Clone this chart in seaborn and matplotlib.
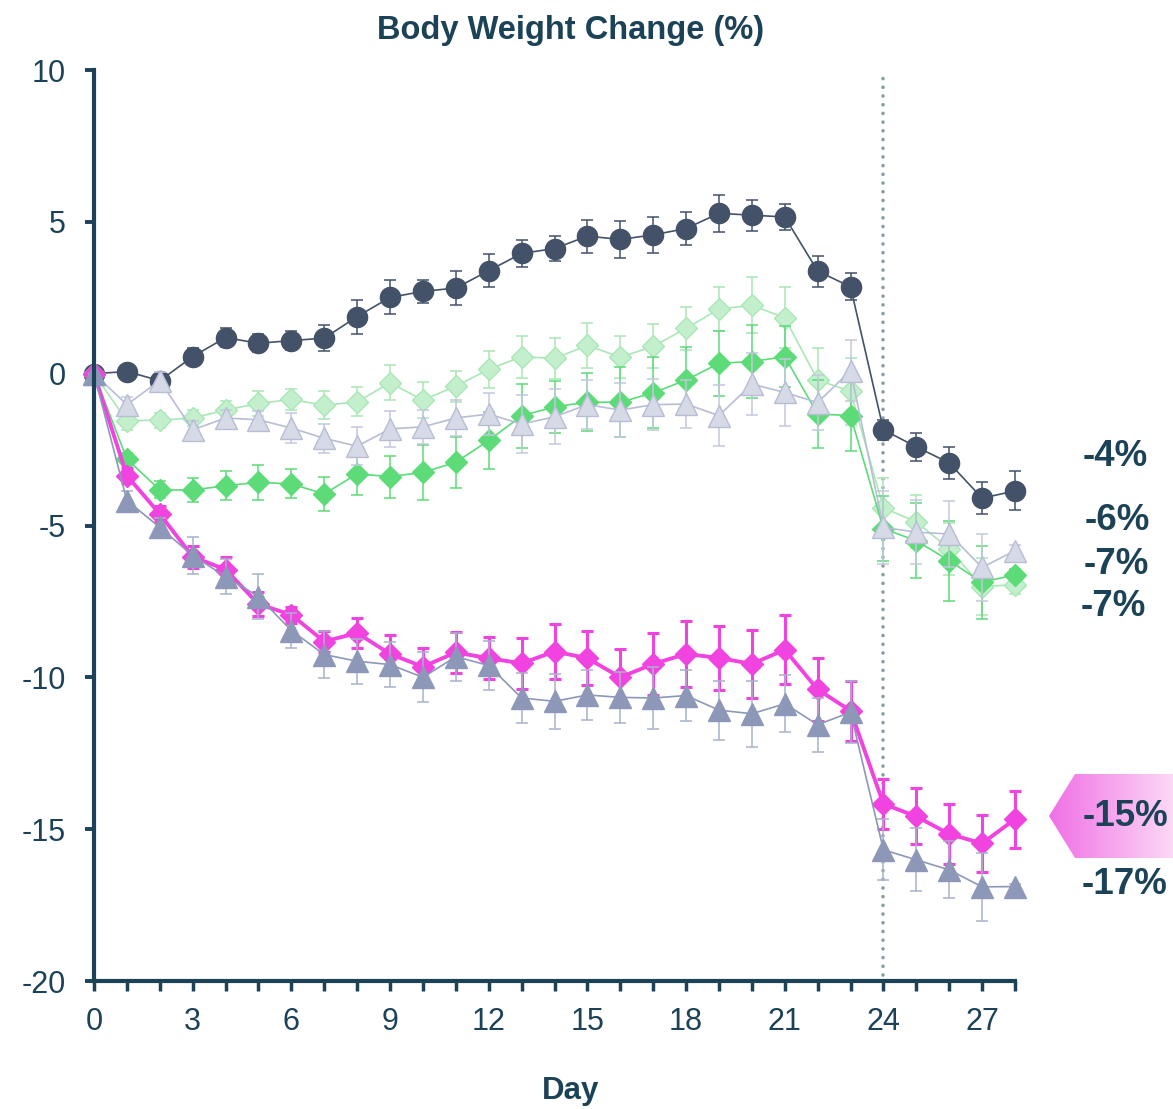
import numpy as np
import pandas as pd
import matplotlib
matplotlib.use("Agg")
import matplotlib.pyplot as plt
from matplotlib.patches import Polygon
from matplotlib.colors import LinearSegmentedColormap
import seaborn as sns

# ---- data ----
days = list(range(29))

vehicle = [0, 0.07, -0.23, 0.56, 1.19, 1.0, 1.09, 1.17, 1.88, 2.51, 2.71, 2.82, 3.39, 3.96, 4.12,
           4.53, 4.42, 4.57, 4.78, 5.28, 5.22, 5.16, 3.38, 2.86, -1.85, -2.41, -2.94, -4.1, -3.86]
vehicle_err = [0, 0.15, 0.2, 0.27, 0.32, 0.29, 0.31, 0.42, 0.56, 0.56, 0.39, 0.55, 0.54, 0.44, 0.41,
               0.54, 0.62, 0.58, 0.54, 0.6, 0.51, 0.44, 0.51, 0.45, 0.34, 0.47, 0.54, 0.53, 0.64]

light_green = [0, -1.55, -1.53, -1.46, -1.2, -0.98, -0.85, -1.04, -0.93, -0.3, -0.87, -0.41, 0.14, 0.56, 0.5,
               0.93, 0.54, 0.9, 1.49, 2.13, 2.25, 1.84, -0.21, -0.58, -4.42, -4.88, -5.77, -7.01, -6.95]
light_green_err = [0, 0.3, 0.25, 0.27, 0.31, 0.41, 0.34, 0.46, 0.48, 0.58, 0.58, 0.51, 0.6, 0.69, 0.67,
                   0.75, 0.69, 0.72, 0.71, 0.74, 0.92, 1.0, 1.07, 1.1, 1.0, 0.87, 0.85, 0.95, 0.3]

green = [0, -2.81, -3.83, -3.83, -3.69, -3.58, -3.63, -3.96, -3.3, -3.39, -3.25, -2.92, -2.2, -1.39, -1.09,
         -0.94, -0.94, -0.63, -0.21, 0.34, 0.4, 0.56, -1.33, -1.38, -5.11, -5.5, -6.16, -6.87, -6.62]
green_err = [0, 0.2, 0.28, 0.4, 0.47, 0.57, 0.48, 0.55, 0.69, 0.69, 0.9, 0.85, 0.95, 1.05, 0.85,
             0.95, 1.15, 1.17, 1.1, 1.08, 1.19, 1.0, 1.12, 1.17, 1.07, 1.23, 1.32, 1.2, 0.2]

lavender = [0, -1.02, -0.23, -1.85, -1.46, -1.52, -1.79, -2.13, -2.39, -1.82, -1.75, -1.46, -1.33, -1.66, -1.42,
            -1.02, -1.2, -1.02, -1.0, -1.38, -0.34, -0.62, -0.95, 0.1, -5.06, -5.22, -5.28, -6.38, -5.83]
lavender_err = [0, 0.25, 0.3, 0.3, 0.25, 0.3, 0.48, 0.47, 0.63, 0.6, 0.55, 0.6, 0.7, 0.95, 0.9,
                0.8, 0.9, 0.85, 0.8, 1.0, 1.02, 1.1, 0.9, 1.0, 1.2, 1.05, 1.08, 1.1, 0.2]

magenta = [0, -3.36, -4.62, -6.03, -6.45, -7.59, -7.94, -8.82, -8.54, -9.23, -9.65, -9.18, -9.37, -9.54, -9.15,
           -9.37, -10.0, -9.56, -9.23, -9.36, -9.56, -9.09, -10.4, -11.1, -14.17, -14.58, -15.16, -15.47, -14.67]
magenta_err = [0, 0.25, 0.25, 0.37, 0.41, 0.4, 0.26, 0.34, 0.5, 0.63, 0.6, 0.68, 0.69, 0.84, 0.89,
               0.88, 0.92, 1.02, 1.09, 1.05, 1.11, 1.13, 1.03, 0.99, 0.82, 0.92, 0.99, 0.93, 0.94]

grayblue = [0, -4.18, -5.06, -5.99, -6.68, -7.34, -8.46, -9.25, -9.47, -9.58, -10.0, -9.32, -9.61, -10.68, -10.79,
            -10.58, -10.66, -10.68, -10.6, -11.08, -11.2, -10.87, -11.56, -11.15, -15.68, -16.01, -16.34, -16.9, -16.89]
grayblue_err = [0, 0.3, 0.3, 0.6, 0.59, 0.73, 0.58, 0.78, 0.74, 0.75, 0.82, 0.79, 0.82, 0.82, 0.91,
                0.82, 0.85, 1.03, 0.85, 0.97, 1.08, 0.94, 0.89, 1.02, 1.01, 1.04, 0.94, 1.12, 0.1]

end_labels = ["-4%", "-6%", "-7%", "-7%", "-15%", "-17%"]
y_ticks = [-20, -15, -10, -5, 0, 5, 10]
x_labeled = [0, 3, 6, 9, 12, 15, 18, 21, 24, 27]
dose_day = 24

TEXT = "#1c4257"

sns.set_theme(style="white")
plt.rcParams["font.family"] = ["Liberation Sans", "DejaVu Sans"]
plt.rcParams["axes.unicode_minus"] = False

W, H = 1173, 1109
fig = plt.figure(figsize=(W / 100, H / 100), dpi=100)
ax = fig.add_axes([94 / W, 1 - 981 / H, (1015 - 94) / W, (981 - 70) / H])

# values, errors, face, edge/line, errbar colour, marker, size, line width, errbar width
series = [
    (vehicle, vehicle_err, "#435268", "#435268", "#435268", "o", 14.5, 1.2, 1.1),
    (light_green, light_green_err, "#c4efcc", "#a9e8b6", "#a8e6b5", "D", 11.5, 1.2, 1.1),
    (green, green_err, "#5cdb78", "#5cdb78", "#5cdb78", "D", 11.5, 1.2, 1.1),
    (lavender, lavender_err, "#d6d9e6", "#b8bdd6", "#c3c8dc", "^", 15.5, 1.2, 1.1),
    (magenta, magenta_err, "#f043e0", "#f043e0", "#f043e0", "D", 11.5, 2.8, 2.2),
    (grayblue, grayblue_err, "#8d97b8", "#8d97b8", "#aab1cb", "^", 15.5, 1.2, 1.1),
]

for i, (vals, errs, col, edge, ecol, mk, ms, lw, elw) in enumerate(series):
    z = 3 + 2 * i
    eb = ax.errorbar(days, vals, yerr=errs, fmt="none", ecolor=ecol, elinewidth=elw,
                     capsize=4, capthick=elw, zorder=z)
    for part in eb.lines[1] + eb.lines[2]:
        part.set_clip_on(False)
    df = pd.DataFrame({"day": days, "value": vals})
    sns.lineplot(data=df, x="day", y="value", ax=ax, color=edge, linewidth=lw,
                 marker=mk, markersize=ms, markerfacecolor=col, markeredgecolor=edge,
                 markeredgewidth=1.0, zorder=z + 1, clip_on=False, legend=False)

ax.axvline(dose_day, ymin=0.007, ymax=1, color="#8a9ba4", linewidth=2.6,
           linestyle=(0, (0.01, 2.4)), dash_capstyle="round", zorder=2)

ax.set_xlim(0, 28)
ax.set_ylim(-20, 10)
ax.set_yticks(y_ticks)
ax.set_yticklabels([str(t) for t in y_ticks])
ax.set_xticks(days)
ax.set_xticklabels([str(d) if d in x_labeled else "" for d in days])
ax.set_xlabel("")
ax.set_ylabel("")

for s in ["top", "right"]:
    ax.spines[s].set_visible(False)
for s in ["left", "bottom"]:
    ax.spines[s].set_color(TEXT)
    ax.spines[s].set_linewidth(3)
    ax.spines[s].set_zorder(20)

ax.tick_params(axis="y", which="major", left=True, length=6.5, width=2.8, color=TEXT,
               labelsize=22, labelcolor=TEXT, pad=14)
ax.tick_params(axis="x", which="major", bottom=True, length=7.5, width=2.5, color=TEXT,
               labelsize=22, labelcolor=TEXT, pad=11)

fig.text(571 / W, 1 - 30 / H, "Body Weight Change (%)", ha="center", va="center",
         fontsize=23.5, fontweight="bold", color=TEXT)
fig.text(571 / W, 1 - 1091 / H, "Day", ha="center", va="center",
         fontsize=22.5, fontweight="bold", color=TEXT)

# gradient tag behind the highlighted end value
tag = fig.add_axes([1049 / W, 1 - 858 / H, (W - 1049) / W, (858 - 774) / H])
tag.set_axis_off()
cmap = LinearSegmentedColormap.from_list("tag", ["#f070e5", "#fcd8f6"])
grad = np.linspace(0, 1, 256).reshape(1, -1)
im = tag.imshow(grad, cmap=cmap, extent=(0, 1, 0, 1), aspect="auto")
tip = 26 / (W - 1049)
poly = Polygon([(0, 0.5), (tip, 1), (1, 1), (1, 0), (tip, 0)], closed=True,
               transform=tag.transData, facecolor="none", edgecolor="none")
tag.add_patch(poly)
im.set_clip_path(poly)
tag.set_xlim(0, 1)
tag.set_ylim(0, 1)

label_pos = [(1115, 457), (1117, 520), (1116, 564), (1113, 607), (1125, 817), (1125, 884)]
for lab, (px, py) in zip(end_labels, label_pos):
    fig.text(px / W, 1 - py / H, lab, ha="center", va="center", fontsize=26.5,
             fontweight="bold", color=TEXT, zorder=10)

fig.savefig("out.png", dpi=100)
